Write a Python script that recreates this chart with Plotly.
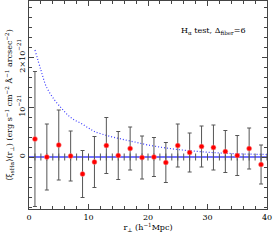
import plotly.graph_objects as go

# data (units of 1e-21)
r_pts = [1, 3, 5, 7, 9, 11, 13, 15, 17, 19, 21, 23, 25, 27, 29, 31, 33, 35, 37, 39]
xi_vals = [0.36, 0.00, 0.24, 0.02, -0.34, -0.10, 0.23, 0.03, 0.17, -0.01,
           0.00, -0.11, 0.23, 0.09, 0.21, 0.19, 0.11, 0.03, 0.17, -0.15]
xi_errs = [1.35, 0.66, 0.70, 0.50, 0.47, 0.51, 0.56, 0.48, 0.43, 0.43,
           0.39, 0.40, 0.43, 0.39, 0.41, 0.45, 0.42, 0.40, 0.41, 0.39]

r_model = [1.0, 2.0, 2.9, 4.3, 5.5, 6.5, 7.5, 8.8, 10.0, 11.0, 12.5, 14.0, 15.5, 17.0,
           18.5, 20.0, 22.5, 25.0, 27.5, 30.0, 33.0, 36.0, 40.0]
xi_model = [2.14, 1.74, 1.41, 1.14, 0.97, 0.84, 0.75, 0.67, 0.58, 0.51, 0.45, 0.40, 0.36, 0.32,
            0.28, 0.24, 0.19, 0.15, 0.12, 0.095, 0.075, 0.06, 0.05]

r_null = list(range(1, 41))
xi_null = [0.0] * len(r_null)
null_err = [0.07] * len(r_null)

scale = 1e-21
FONT = "DejaVu Serif"

fig = go.Figure()

fig.add_trace(go.Scatter(x=[0, 40], y=[0, 0], mode="lines",
                         line=dict(color="rgb(70,70,255)", width=1.5),
                         hoverinfo="skip", showlegend=False))
fig.add_trace(go.Scatter(x=r_null, y=[v * scale for v in xi_null], mode="markers",
                         marker=dict(size=1, color="rgba(0,0,0,0)"),
                         error_y=dict(type="data", array=[e * scale for e in null_err],
                                      color="#555", thickness=1, width=0),
                         showlegend=False))
fig.add_trace(go.Scatter(x=r_model, y=[v * scale for v in xi_model], mode="lines",
                         line=dict(color="rgb(60,60,255)", width=1.2, dash="1px,2px", shape="spline"),
                         showlegend=False))
fig.add_trace(go.Scatter(x=r_pts, y=[v * scale for v in xi_vals], mode="markers",
                         marker=dict(size=5, color="red", line=dict(color="#f4a0a0", width=0.5)),
                         error_y=dict(type="data", array=[e * scale for e in xi_errs],
                                      color="#555", thickness=1, width=2),
                         showlegend=False))

fig.add_annotation(x=0.63, y=0.855, xref="paper", yref="paper", xanchor="left", yanchor="middle",
                   text="H<sub>α</sub> test, Δ<sub>fiber</sub>=6", showarrow=False,
                   font=dict(family=FONT, size=8, color="black"))

fig.update_layout(
    width=275, height=242,
    margin=dict(l=29, r=8, t=1, b=33),
    plot_bgcolor="white", paper_bgcolor="white",
    font=dict(family=FONT, size=8, color="black"),
    xaxis=dict(range=[0, 40], tickvals=[0, 10, 20, 30, 40], ticktext=["0", "10", "20", "30", "40"],
               ticks="inside", ticklen=5, tickcolor="#444", mirror="allticks",
               ticklabeloverflow="allow",
               showline=True, linecolor="#444", linewidth=1, showgrid=False, zeroline=False,
               minor=dict(dtick=2, ticks="inside", ticklen=3, tickcolor="#444"),
               title=dict(text="r<sub>⊥</sub> (h<sup>−1</sup>Mpc)", standoff=2,
                          font=dict(family=FONT, size=8))),
    yaxis=dict(range=[-1.04e-21, 3.12e-21], tickvals=[0, 1e-21, 2e-21],
               ticktext=["0", "10<sup>−21</sup>", "2×10<sup>−21</sup>"], tickangle=-90,
               ticks="inside", ticklen=5, tickcolor="#444", mirror="allticks",
               showline=True, linecolor="#444", linewidth=1, showgrid=False, zeroline=False,
               minor=dict(tick0=0, dtick=2e-22, ticks="inside", ticklen=3, tickcolor="#444"),
               title=dict(text="⟨ξ<sub>sHα</sub>⟩(r<sub>⊥</sub>) (erg s<sup>−1</sup> cm<sup>−2</sup> Å<sup>−1</sup> arcsec<sup>−2</sup>)",
                          standoff=2, font=dict(family=FONT, size=8))),
)

fig.write_html("out.html", config={"displayModeBar": False})

# remove default page margin so the figure sits at the window's top-left corner
with open("out.html", "r", encoding="utf-8") as f:
    html = f.read()
html = html.replace("<head>", "<head><style>html,body{margin:0;padding:0;overflow:hidden;}</style>", 1)
with open("out.html", "w", encoding="utf-8") as f:
    f.write(html)
